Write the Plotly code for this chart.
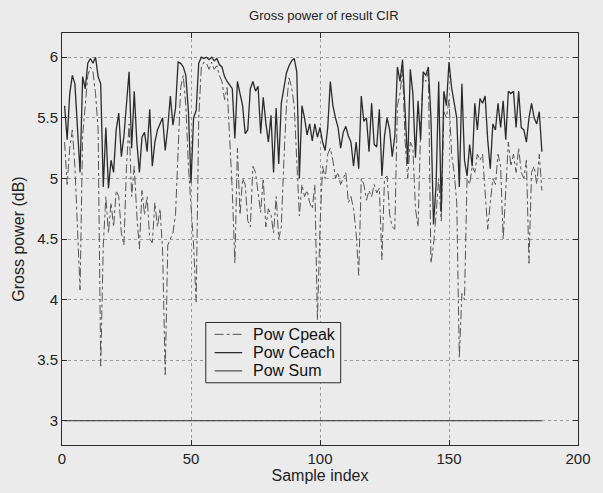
import plotly.graph_objects as go

# Sample indices 1..186
sample_index = list(range(1, 187))

# Gross power of the CIR (dB), peak-tap estimate
pow_cpeak = [
    5.30, 4.95, 5.25, 5.40, 5.10, 4.60, 4.08, 5.35, 5.60, 5.85,
    5.92, 5.88, 5.70, 5.40, 3.45, 4.45, 4.85, 4.55, 4.80, 4.60,
    4.90, 4.85, 4.55, 4.45, 5.10, 5.45, 4.85, 5.10, 4.70, 4.42,
    4.90, 4.70, 4.85, 4.50, 4.47, 4.80, 4.60, 4.75, 4.40, 3.38,
    4.45, 4.50, 4.55, 4.70, 5.30, 5.75, 5.85, 5.60, 5.10, 4.80,
    4.45, 3.98, 5.50, 5.92, 5.96, 5.95, 5.90, 5.96, 5.90, 5.93,
    5.85, 5.80, 5.65, 5.75, 5.30, 4.90, 4.30, 5.25, 4.70, 5.00,
    4.95, 4.65, 4.60, 5.10, 5.05, 4.90, 4.72, 5.00, 4.60, 4.75,
    4.70, 4.55, 4.85, 4.50, 4.60, 5.15, 5.60, 5.83, 5.75, 5.60,
    5.20, 4.69, 4.95, 4.85, 4.90, 4.80, 4.75, 4.95, 3.83, 4.60,
    5.10, 5.00, 5.20, 5.25, 5.15, 5.00, 5.05, 4.95, 5.00, 5.05,
    4.80, 4.85, 4.75, 4.55, 4.20, 5.00, 4.95, 4.82, 4.90, 4.85,
    4.95, 4.88, 4.92, 4.33, 5.00, 5.02, 4.70, 4.60, 4.58, 5.60,
    5.70, 5.90, 5.30, 5.00, 5.30, 5.25, 4.75, 4.60, 5.40, 5.85,
    5.80, 5.88, 4.30, 4.45, 4.70, 5.00, 4.65, 5.55, 5.50, 5.65,
    5.20, 5.05, 4.80, 3.52, 4.05, 4.00, 5.00, 4.95, 5.10, 5.05,
    5.20, 5.15, 5.20, 4.90, 4.58, 4.80, 5.00, 4.95, 5.20, 5.10,
    4.50, 4.90, 5.30, 5.10, 5.20, 5.05, 5.25, 5.05, 5.00, 5.15,
    4.30, 5.05, 5.10, 4.95, 5.20, 4.90,
]

# Gross power of the CIR (dB), all-taps estimate
pow_ceach = [
    5.60, 5.32, 5.70, 5.85, 5.78, 5.45, 5.05, 5.84, 5.74, 5.95,
    5.99, 5.95, 6.00, 5.84, 5.78, 4.93, 5.42, 4.92, 5.15, 5.05,
    5.40, 5.54, 5.18, 5.35, 5.62, 5.88, 5.25, 5.72, 5.30, 5.05,
    5.34, 5.38, 5.22, 5.57, 5.10, 5.30, 5.40, 5.45, 5.50, 5.23,
    5.42, 5.68, 5.44, 5.58, 5.96, 5.95, 5.92, 5.85, 5.55, 4.96,
    5.50, 5.56, 5.95, 6.00, 5.99, 6.00, 5.98, 6.00, 5.97, 5.99,
    5.94, 5.92, 5.84, 5.80, 5.77, 5.74, 5.33, 5.80, 5.70, 5.60,
    5.37, 5.40, 5.74, 5.80, 5.72, 5.76, 5.37, 5.67, 5.46, 5.30,
    5.52, 5.05, 5.58, 5.12, 5.62, 5.75, 5.87, 5.93, 5.97, 5.99,
    5.88, 5.00, 5.60, 5.50, 5.36, 5.45, 5.31, 5.45, 5.34, 5.42,
    5.30, 5.23, 5.42, 5.80, 5.60, 5.50, 5.42, 5.25, 5.38, 5.43,
    5.35, 5.30, 5.10, 5.30, 5.08, 5.68, 5.47, 5.50, 5.22, 5.62,
    5.28, 5.26, 5.57, 5.02, 5.35, 5.50, 5.40, 5.18, 5.35, 5.92,
    5.80, 5.98, 5.55, 5.12, 5.90, 5.70, 5.17, 5.64, 5.32, 5.88,
    5.85, 5.92, 5.50, 4.62, 4.95, 5.80, 4.72, 5.72, 5.60, 5.96,
    5.75, 5.62, 5.50, 4.93, 5.78, 5.15, 5.02, 5.28, 5.10, 5.62,
    5.40, 5.66, 5.62, 5.68, 5.32, 5.08, 5.45, 5.40, 5.62, 5.42,
    5.64, 5.32, 5.72, 5.70, 5.72, 5.42, 5.72, 5.42, 5.40, 5.30,
    5.50, 5.62, 5.50, 5.45, 5.55, 5.22,
]

# Power sum reference (dB)
pow_sum = [3.0] * len(sample_index)

x_ticks = [0, 50, 100, 150, 200]
y_ticks = [3, 3.5, 4, 4.5, 5, 5.5, 6]

ink = "#2b2b2b"
bg = "#ebebeb"
font = "Liberation Sans, Arial, Helvetica, sans-serif"

series = [
    ("Pow Cpeak", pow_cpeak, dict(color="#555555", width=1, dash="dashdot")),
    ("Pow Ceach", pow_ceach, dict(color=ink, width=1.3)),
    ("Pow Sum", pow_sum, dict(color=ink, width=1)),
]

fig = go.Figure()
for name, values, style in series:
    fig.add_trace(go.Scatter(x=sample_index, y=values, mode="lines", name=name,
                             line=style, showlegend=False))

axis_common = dict(
    showline=True, linecolor=ink, linewidth=1, mirror="ticks",
    ticks="inside", ticklen=5, tickcolor=ink,
    showgrid=True, gridcolor="#9a9a9a", griddash="dot", gridwidth=1,
    zeroline=False, tickfont=dict(family=font, size=15, color="#222222"),
)

W, H = 603, 493
ML, MR, MT, MB = 62, 17, 33, 43
fig.update_layout(
    width=W, height=H,
    margin=dict(l=ML, r=MR, t=MT, b=MB),
    paper_bgcolor=bg, plot_bgcolor=bg,
    title=dict(text="Gross power of result CIR", x=0.537, xanchor="center",
               y=0.968, yanchor="middle",
               font=dict(family=font, size=13, color="#222222")),
    xaxis=dict(range=[0, 200], tickvals=x_ticks,
               title=dict(text="Sample index", standoff=3,
                          font=dict(family=font, size=16, color="#222222")),
               **axis_common),
    yaxis=dict(range=[2.8, 6.2], tickvals=y_ticks,
               title=dict(text="Gross power (dB)", standoff=8,
                          font=dict(family=font, size=16, color="#222222")),
               **axis_common),
    showlegend=False,
)

# Boxed legend inside the axes, laid out in pixel units of the plot area
pw, ph = W - ML - MR, H - MT - MB


def px_x(px):
    return (px - ML) / pw


def px_y(py):
    return (H - MB - py) / ph


fig.add_shape(type="rect", xref="paper", yref="paper",
              x0=px_x(208), x1=px_x(345), y0=px_y(387), y1=px_y(326),
              line=dict(color=ink, width=1), fillcolor=bg, layer="above")
for row, (name, _, style) in enumerate(series):
    ry = px_y(338 + row * 18.5)
    fig.add_shape(type="line", xref="paper", yref="paper",
                  x0=px_x(217), x1=px_x(245), y0=ry, y1=ry,
                  line=style, layer="above")
    fig.add_annotation(text=name, xref="paper", yref="paper",
                       x=px_x(254), y=ry, xanchor="left", yanchor="middle",
                       showarrow=False,
                       font=dict(family=font, size=16, color="#111111"))

fig.write_html("out.html")
